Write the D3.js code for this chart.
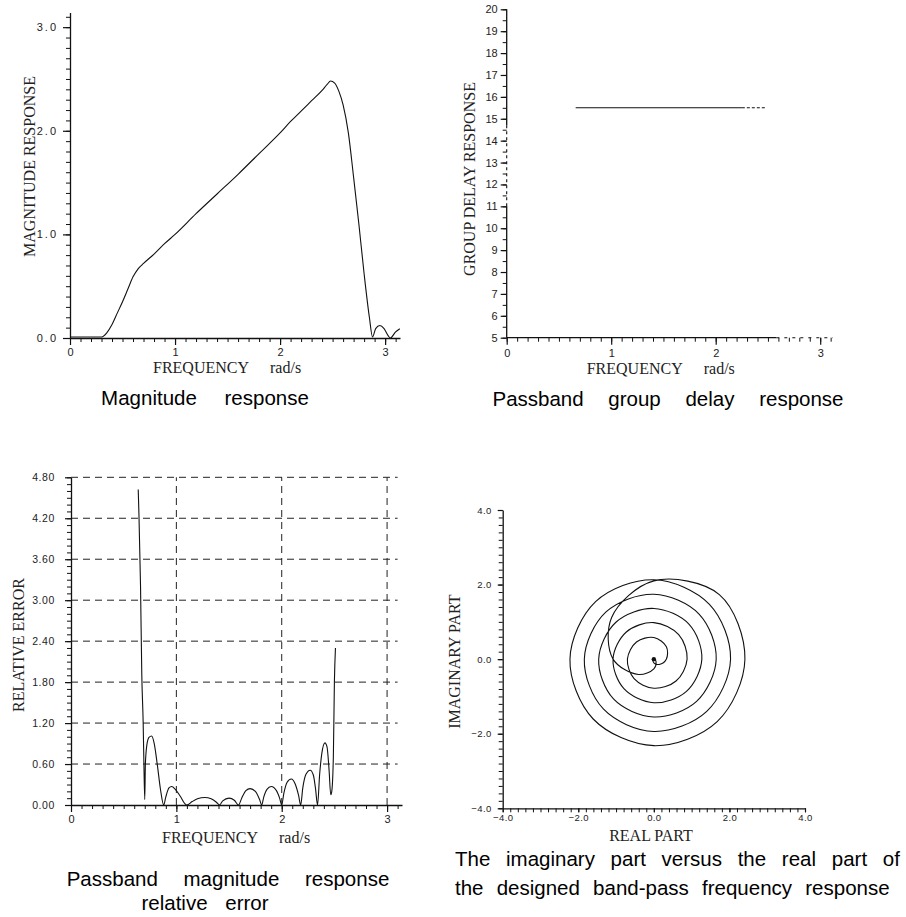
<!DOCTYPE html>
<html>
<head>
<meta charset="utf-8">
<script src="https://cdn.jsdelivr.net/npm/d3@7"></script>
<style>
  body { margin: 0; background: #fff; }
  .tick text { font-family: "Liberation Sans", Arial, sans-serif; fill: #222; }
  .axis-title { font-family: "Liberation Serif", "Times New Roman", serif; font-size: 16px; fill: #222; }
  .caption { font-family: "Liberation Sans", Arial, sans-serif; font-size: 20.5px; fill: #000; }
  .curve { fill: none; stroke: #111; stroke-width: 1.1; }
  .grid { stroke: #222; stroke-width: 1; stroke-dasharray: 7,5; }
</style>
</head>
<body>
<div id="chart"></div>
<script>
// magnitude response
var magFreq = [0, 0.1, 0.2, 0.3, 0.35, 0.4, 0.45, 0.5, 0.55, 0.6, 0.65, 0.7, 0.8, 0.9, 1.0, 1.2, 1.4, 1.6, 1.8, 2.0,
  2.1, 2.2, 2.3, 2.4, 2.45, 2.48, 2.52, 2.56, 2.6, 2.65, 2.7, 2.75, 2.8, 2.85, 2.88, 2.91, 2.95, 2.99, 3.03, 3.05, 3.1, 3.14];
var magValue = [0.01, 0.01, 0.01, 0.01, 0.05, 0.13, 0.24, 0.35, 0.47, 0.59, 0.67, 0.72, 0.81, 0.91, 1.00, 1.20, 1.39, 1.58, 1.78, 1.98,
  2.09, 2.19, 2.29, 2.39, 2.45, 2.48, 2.46, 2.38, 2.25, 1.98, 1.55, 1.10, 0.62, 0.20, 0.01, 0.09, 0.12, 0.09, 0.02, 0.00, 0.06, 0.09];

// passband group delay
var delayFreq = [0.66, 1.0, 1.5, 2.0, 2.25, 2.36, 2.47];
var delayValue = [15.5, 15.5, 15.5, 15.5, 15.5, 15.5, 15.5];

// passband relative error
var errFreq = [0.638, 0.645, 0.660, 0.672, 0.685, 0.692, 0.700, 0.706, 0.720, 0.740, 0.765, 0.790, 0.820, 0.850, 0.880,
  0.90, 0.93, 0.955, 0.99, 1.04, 1.08, 1.10,
  1.15, 1.20, 1.27, 1.33, 1.38, 1.41,
  1.44, 1.50, 1.55, 1.59,
  1.62, 1.66, 1.70, 1.75, 1.79, 1.81,
  1.83, 1.86, 1.90, 1.95, 1.98, 2.00,
  2.02, 2.05, 2.09, 2.13, 2.16, 2.18,
  2.20, 2.23, 2.27, 2.30, 2.32, 2.34,
  2.36, 2.38, 2.41, 2.43, 2.45, 2.465, 2.475, 2.49, 2.50, 2.51];
var errValue = [4.62, 4.25, 3.20, 1.90, 1.20, 0.60, 0.08, 0.60, 0.88, 0.99, 1.01, 0.90, 0.58, 0.22, 0.00,
  0.12, 0.25, 0.27, 0.23, 0.12, 0.02, 0.00,
  0.05, 0.09, 0.11, 0.09, 0.04, 0.00,
  0.06, 0.10, 0.07, 0.00,
  0.10, 0.21, 0.24, 0.20, 0.08, 0.00,
  0.12, 0.23, 0.27, 0.21, 0.10, 0.00,
  0.17, 0.33, 0.38, 0.30, 0.14, 0.00,
  0.25, 0.45, 0.51, 0.44, 0.25, 0.00,
  0.45, 0.75, 0.91, 0.85, 0.50, 0.15, 0.20, 0.70, 1.80, 2.30];

// frequency response in the complex plane, read as angle (deg) and radius
var spiralAngle = [-1980, -1935, -1890, -1845, -1800, -1755, -1710, -1665, -1620, -1575, -1530, -1485, -1440, -1395,
  -1350, -1305, -1260, -1215, -1170, -1125, -1080, -1035, -990, -945, -900, -855, -810, -765, -720, -675, -630, -585,
  -540, -495, -450, -405, -360, -315, -270, -225, -180, -135, -90, -45, 0, 45, 90, 135, 180, 225, 270, 315, 360];
var spiralRadius = [0.00, 0.03, 0.10, 0.20, 0.33, 0.47, 0.58, 0.65, 0.70, 0.74, 0.78, 0.83, 0.88, 0.93,
  0.98, 1.03, 1.08, 1.12, 1.17, 1.22, 1.27, 1.32, 1.36, 1.41, 1.46, 1.51, 1.55, 1.60, 1.65, 1.70, 1.74, 1.79,
  1.84, 1.89, 1.94, 1.98, 2.03, 2.08, 2.13, 2.18, 2.22, 2.27, 2.32, 2.37, 2.41, 2.45, 2.10, 1.58, 1.08, 0.58, 0.26, 0.08, 0.02];

// tick labels
var freqTicks = [0, 1, 2, 3];
var magTicks = [0, 1, 2, 3];
var delayTicks = [5, 6, 7, 8, 9, 10, 11, 12, 13, 14, 15, 16, 17, 18, 19, 20];
var errTicks = [0, 0.6, 1.2, 1.8, 2.4, 3.0, 3.6, 4.2, 4.8];
var cplxTicks = [-4, -2, 0, 2, 4];


var svg = d3.select("#chart")
  .append("svg")
  .attr("width", 906)
  .attr("height", 917)
  .style("background", "white");

function addAxis(orient, scale, pos, major, minor, fmt, o) {
  var mk = orient === "left" ? d3.axisLeft : d3.axisBottom;
  var tr = orient === "left" ? "translate(" + pos + ",0)" : "translate(0," + pos + ")";

  svg.append("g")
    .attr("transform", tr)
    .call(mk(scale).tickValues(minor).tickSize(o.minor).tickSizeOuter(0).tickFormat(""))
    .call(g => g.select(".domain").remove())
    .selectAll("line").attr("stroke", "#111");

  var ax = svg.append("g")
    .attr("transform", tr)
    .call(mk(scale).tickValues(major).tickSize(o.major).tickSizeOuter(0).tickPadding(o.pad).tickFormat(fmt));
  ax.selectAll("line").attr("stroke", "#111").attr("stroke-width", 1.2);
  ax.select(".domain").attr("stroke", "#111").attr("stroke-width", 1.3);
  ax.selectAll("text")
    .style("font-size", o.fs + "px")
    .style("letter-spacing", (o.ls || 0) + "px");
  if (o.noDomain) ax.select(".domain").remove();
  return ax;
}

function axisTitle(x, y, txt, rotate) {
  var t = svg.append("text")
    .attr("class", "axis-title")
    .attr("text-anchor", rotate ? "middle" : "start")
    .attr("transform", "translate(" + x + "," + y + ")" + (rotate ? "rotate(-90)" : ""))
    .text(txt);
  return t;
}

function freqTitle(x, y) {
  axisTitle(x, y, "FREQUENCY");
  axisTitle(x + 117, y, "rad/s");
}

function caption(x, y, txt, anchor, ws) {
  svg.append("text")
    .attr("class", "caption")
    .attr("x", x)
    .attr("y", y)
    .attr("text-anchor", anchor)
    .style("word-spacing", ws + "px")
    .text(txt);
}

var fmt1 = d3.format(".1f");
var fmt2 = d3.format(".2f");
var fmtI = d3.format("d");

// ---------- panel 1 : magnitude response
var x1 = d3.scaleLinear().domain([0, Math.PI]).range([70, 400]);
var y1 = d3.scaleLinear().domain([0, Math.PI]).range([338, 12.5]);

addAxis("left", y1, 70, magTicks, d3.range(0, 3.15, 0.1), fmt1, { minor: 4, major: 7, pad: 5, fs: 11, ls: 2 });
addAxis("bottom", x1, 338, freqTicks, d3.range(0, 3.15, 0.1), fmtI, { minor: 4, major: 7, pad: 3, fs: 11 });

svg.append("path")
  .datum(magFreq.map((f, i) => ({ f: f, v: magValue[i] })))
  .attr("class", "curve")
  .attr("d", d3.line().curve(d3.curveMonotoneX)
    .x(d => x1(d.f))
    .y(d => y1(d.v)));

freqTitle(153, 372.7);
axisTitle(35, 166.5, "MAGNITUDE RESPONSE", true);
caption(205, 405, "Magnitude response", "middle", 22);

// ---------- panel 2 : group delay
var x2 = d3.scaleLinear().domain([0, Math.PI]).range([506.7, 835]);
var y2 = d3.scaleLinear().domain([5, 20]).range([337.7, 9.3]);

addAxis("left", y2, 506.7, delayTicks, d3.range(5, 20.01, 0.5), fmtI, { minor: 4, major: 6, pad: 3, fs: 11, noDomain: true });
addAxis("bottom", x2, 337.7, freqTicks, d3.range(0, 3.15, 0.1), fmtI, { minor: 4, major: 7, pad: 4.5, fs: 11, noDomain: true });

// axis lines (partly broken in the original print)
svg.append("line").attr("x1", x2(0)).attr("x2", x2(2.58)).attr("y1", y2(5)).attr("y2", y2(5))
  .attr("stroke", "#111").attr("stroke-width", 1.3);
svg.append("line").attr("x1", x2(2.58)).attr("x2", x2(3.12)).attr("y1", y2(5)).attr("y2", y2(5))
  .attr("stroke", "#111").attr("stroke-width", 1.1).attr("stroke-dasharray", "3,5");
svg.append("line").attr("x1", x2(0)).attr("x2", x2(0)).attr("y1", y2(5)).attr("y2", y2(11))
  .attr("stroke", "#111").attr("stroke-width", 1.3);
svg.append("line").attr("x1", x2(0)).attr("x2", x2(0)).attr("y1", y2(11)).attr("y2", y2(14.7))
  .attr("stroke", "#111").attr("stroke-width", 1.1).attr("stroke-dasharray", "3,3");
svg.append("line").attr("x1", x2(0)).attr("x2", x2(0)).attr("y1", y2(14.7)).attr("y2", y2(20))
  .attr("stroke", "#111").attr("stroke-width", 1.3);

var delayPts = delayFreq.map((f, i) => ({ f: f, v: delayValue[i] }));
var delayLine = d3.line().x(d => x2(d.f)).y(d => y2(d.v));
svg.append("path")
  .datum(delayPts.slice(0, 5))
  .attr("class", "curve")
  .attr("stroke-width", 1.4)
  .attr("d", delayLine);
svg.append("path")
  .datum(delayPts.slice(4))
  .attr("class", "curve")
  .attr("stroke-dasharray", "3,2")
  .attr("d", delayLine);

freqTitle(586.7, 374);
axisTitle(475, 179, "GROUP DELAY RESPONSE", true);
caption(668, 406, "Passband group delay response", "middle", 19);

// ---------- panel 3 : relative error
var x3 = d3.scaleLinear().domain([0, Math.PI]).range([71, 402]);
var y3 = d3.scaleLinear().domain([0, 4.8]).range([805, 477.3]);

svg.append("g")
  .selectAll("line")
  .data(errTicks.filter(d => d > 0))
  .enter().append("line")
  .attr("class", "grid")
  .attr("x1", x3(0))
  .attr("x2", x3(3.1))
  .attr("y1", d => y3(d))
  .attr("y2", d => y3(d));

svg.append("g")
  .selectAll("line")
  .data(freqTicks.filter(d => d > 0))
  .enter().append("line")
  .attr("class", "grid")
  .attr("stroke-dasharray", d => d === 2 ? "2,6" : "7,5")
  .attr("x1", d => x3(d))
  .attr("x2", d => x3(d))
  .attr("y1", y3(0))
  .attr("y2", y3(4.8));

addAxis("left", y3, 71, errTicks, d3.range(0, 4.81, 0.1), fmt2, { minor: 4, major: 6, pad: 10, fs: 10.5, ls: 0.6 });
addAxis("bottom", x3, 805, freqTicks, d3.range(0, 3.15, 0.1), fmtI, { minor: 4, major: 7, pad: 3, fs: 11 });

svg.append("path")
  .datum(errFreq.map((f, i) => ({ f: f, v: errValue[i] })))
  .attr("class", "curve")
  .attr("d", d3.line().curve(d3.curveMonotoneX)
    .x(d => x3(d.f))
    .y(d => y3(d.v)));

freqTitle(162, 843);
axisTitle(23.5, 645, "RELATIVE ERROR", true);
caption(228, 886, "Passband magnitude response", "middle", 20);
caption(205, 910, "relative error", "middle", 12);

// ---------- panel 4 : imaginary vs real part
var x4 = d3.scaleLinear().domain([-4, 4]).range([502.7, 805]);
var y4 = d3.scaleLinear().domain([-4, 4]).range([808.3, 510]);

addAxis("left", y4, 502.7, cplxTicks, d3.range(-4, 4.01, 0.2), fmt1, { minor: 4, major: 5, pad: 6, fs: 9.5, ls: 0.4 });
addAxis("bottom", x4, 808.3, cplxTicks, d3.range(-4, 4.01, 0.2), fmt1, { minor: 4, major: 4, pad: 1.5, fs: 9.5, ls: 0.4 });

var spiralPts = spiralAngle.map(function (a, i) {
  var t = a * Math.PI / 180;
  return { re: spiralRadius[i] * Math.cos(t), im: spiralRadius[i] * Math.sin(t) };
});

svg.append("path")
  .datum(spiralPts)
  .attr("class", "curve")
  .attr("d", d3.line().curve(d3.curveCatmullRom)
    .x(d => x4(d.re))
    .y(d => y4(d.im)));

svg.append("circle")
  .attr("cx", x4(0))
  .attr("cy", y4(0))
  .attr("r", 2.2)
  .attr("fill", "#111");

svg.append("text")
  .attr("class", "axis-title")
  .attr("x", 651)
  .attr("y", 841)
  .attr("text-anchor", "middle")
  .text("REAL PART");
axisTitle(460, 661.7, "IMAGINARY PART", true);
caption(455, 866, "The imaginary part versus the real part of", "start", 10);
caption(455, 895, "the designed band-pass frequency response", "start", 7.5);
</script>
</body>
</html>
